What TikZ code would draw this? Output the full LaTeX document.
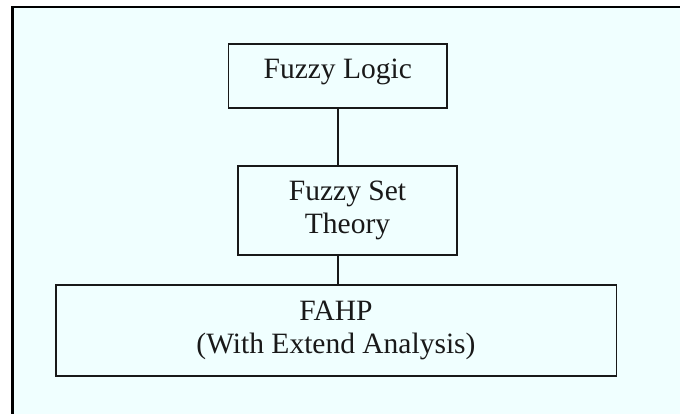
\documentclass[tikz,border=0pt]{standalone}
\usepackage{fontspec}
\setmainfont{Liberation Serif}
\definecolor{bgcyan}{RGB}{240,255,255}
\definecolor{ink}{RGB}{25,25,25}
\begin{document}
\begin{tikzpicture}[x=1pt,y=-1pt,
  boxstyle/.style={draw=ink, line width=1.5pt, fill=bgcyan, align=center,
    inner sep=0pt, text=ink,
    font=\fontsize{29.5}{32.5}\selectfont},
  linkstyle/.style={draw=ink, line width=1.5pt}]
\useasboundingbox (0,0) rectangle (680,414);
\fill[white] (0,0) rectangle (680,414);
\fill[bgcyan] (12.5,7) rectangle (680,414);
\draw[black, line width=2.5pt] (12.5,414) -- (12.5,7) -- (680,7);
\node[boxstyle, minimum width=218.5pt, minimum height=64pt, text height=10pt, text depth=5.4pt] (b1) at (337.75,76) {Fuzzy Logic};
\node[boxstyle, minimum width=219pt, minimum height=89pt] (b2) at (347.5,210.5) {Fuzzy Set\\Theory};
\node[boxstyle, minimum width=560.5pt, minimum height=91pt] (b3) at (336,330.5) {FAHP\\(With Extend Analysis)};
\draw[linkstyle] (b1.south) -- (b2.north -| b1.south);
\draw[linkstyle] (b2.south -| b1.south) -- (b3.north -| b1.south);
\end{tikzpicture}
\end{document}
